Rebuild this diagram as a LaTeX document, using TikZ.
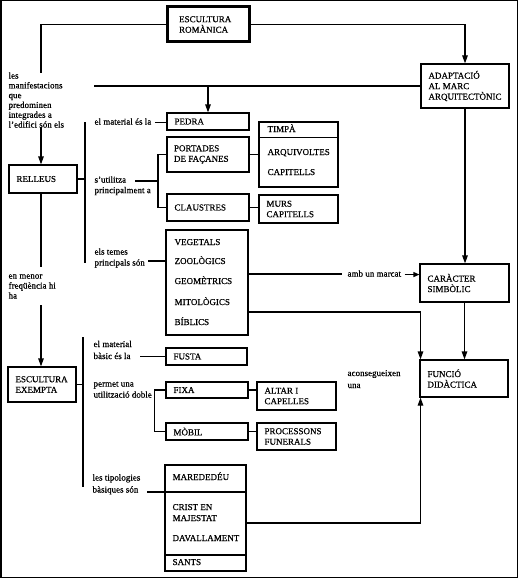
\documentclass[tikz,border=0pt]{standalone}
\usepackage{fontspec}
\setmainfont[FakeBold=0.6]{Liberation Serif}
\usetikzlibrary{arrows.meta}
\tikzset{
  box/.style={draw, line width=1.2pt, inner sep=0pt},
  txt/.style={font=\fontsize{9}{10.5}\selectfont, align=left, inner sep=0pt},
  lbl/.style={txt, anchor=north west},
  arr/.style={-{Triangle[length=8pt,width=5.5pt]}},
}
\def\bxoff{7.5pt}
\newcommand\bx[7][]{%
  \node[box,#1,minimum width={(#4)-(#2)},minimum height={(#5)-(#3)}] (#7) at ({((#2)+(#4))/2},{((#3)+(#5))/2}) {};
  \node[txt,anchor=west] (#7t) at ([xshift=\bxoff]#7.west) {#6};}
\begin{document}
\begin{tikzpicture}[x=1pt,y=-1pt,line width=1.2pt]
\useasboundingbox (0,0) rectangle (518,578);
\draw[line width=1.5pt] (0.75,0.75) rectangle (517.25,577.25);

% boxes
{\def\bxoff{13pt}\bx[line width=3pt]{167}{7}{249}{42}{ESCULTURA\\ROMÀNICA}{rom}}
\bx{421}{64}{509}{108}{ADAPTACIÓ\\AL MARC\\ARQUITECTÒNIC}{adapt}
\bx{9}{165}{77}{193}{RELLEUS}{relleus}
\bx{8}{367}{76}{402}{ESCULTURA\\EXEMPTA}{exempta}
\bx{167}{113}{249}{130}{PEDRA}{pedra}
\bx[line width=2.2pt]{167}{137}{249}{172}{PORTADES\\DE FAÇANES}{portades}
\bx{167}{194}{249}{221}{CLAUSTRES}{claustres}
\bx{259}{195}{338}{223}{MURS\\CAPITELLS}{murs}
\bx{420}{264}{509}{302}{CARÀCTER\\SIMBÒLIC}{carac}
\bx{420}{360}{508}{397}{FUNCIÓ\\DIDÀCTICA}{funcio}
\bx{166}{348}{247}{365}{FUSTA}{fusta}
\bx{166}{382}{248}{398}{FIXA}{fixa}
\bx{257}{382}{336}{410}{ALTAR I\\CAPELLES}{altar}
\bx{166}{423}{248}{440}{MÒBIL}{mobil}
\bx{257}{423}{336}{450}{PROCESSONS\\FUNERALS}{proc}

% group: timpa
\node[box,minimum width=79,minimum height=65] (timpa) at (298.5,154.5) {};
\draw ([yshift=-16pt]timpa.north west) -- ([yshift=-16pt]timpa.north east);
\node[txt,anchor=base west] (timpa1) at (267,132) {TIMPÀ};
\node[txt,anchor=base west] (timpa2) at (267,155) {ARQUIVOLTES};
\node[txt,anchor=base west] (timpa3) at (267,175) {CAPITELLS};

% group: temes
\node[box,minimum width=82,minimum height=105] (temes) at (207,282.5) {};
\node[txt,anchor=base west] (tem1) at (174,245) {VEGETALS};
\node[txt,anchor=base west] (tem2) at (174,264) {ZOOLÒGICS};
\node[txt,anchor=base west] (tem3) at (174,284) {GEOMÈTRICS};
\node[txt,anchor=base west] (tem4) at (174,305) {MITOLÒGICS};
\node[txt,anchor=base west] (tem5) at (174,325) {BÍBLICS};

% group: tipologies
\node[box,line width=1.8pt,minimum width=81,minimum height=106] (tipus) at (205.5,518) {};
\draw[line width=1.8pt] ([yshift=-28pt]tipus.north west) -- ([yshift=-28pt]tipus.north east);
\draw[line width=1.8pt] ([yshift=17pt]tipus.south west) -- ([yshift=17pt]tipus.south east);
\node[txt,anchor=base west] (tip1) at (172,480) {MAREDEDÉU};
\node[txt,anchor=base west] (tip2) at (172,510) {CRIST EN};
\node[txt,anchor=base west] (tip3) at (172,521) {MAJESTAT};
\node[txt,anchor=base west] (tip4) at (172,541) {DAVALLAMENT};
\node[txt,anchor=base west] (tip5) at (172,565) {SANTS};

% labels
\node[lbl,font=\fontsize{9}{9.8}\selectfont] (lman) at (8,71.1) {\strut les\\manifestacions\\que\\predominen\\integrades a\\l'edifici són els};
\node[lbl,font=\fontsize{9}{10}\selectfont] (lmen) at (8,271) {\strut en menor\\freqüència hi\\ha};
\node[lbl] (lmat) at (94,116.7) {\strut el material és la};
\node[lbl] (luti) at (94,174.7) {\strut s'utilitza\\principalment a};
\node[lbl,font=\fontsize{9}{11}\selectfont] (ltem) at (94,246.3) {\strut els temes\\principals són};
\node[lbl,font=\fontsize{9}{12}\selectfont] (lmat2) at (93,338) {\strut el material\\bàsic és la};
\node[lbl,font=\fontsize{9}{11}\selectfont] (lper) at (93,378.3) {\strut permet una\\utilització doble};
\node[lbl,font=\fontsize{9}{12}\selectfont] (ltip) at (92,471.5) {\strut les tipologies\\bàsiques són};
\node[lbl,font=\fontsize{9}{12}\selectfont] (lacon) at (347,367) {\strut aconsegueixen\\una};
\node[lbl] (lmarc) at (347,268.7) {\strut amb un marcat};

% coordinates
\coordinate (c1) at (41,73);
\coordinate (c2) at (41,127);
\coordinate (c3) at (41,267);
\coordinate (c4) at (41,305);
\coordinate (h1) at (94,85);
\coordinate (br1t) at (85,122);
\coordinate (br1b) at (85,263);
\coordinate (br2t) at (83,337);
\coordinate (br2b) at (83,487);
\coordinate (u1) at (135,181);
\coordinate (u2) at (159,181);
\coordinate (t1) at (148,261);
\coordinate (t2) at (140,356.5);
\coordinate (t3) at (147,492);
\coordinate (m1) at (342,274);
\coordinate (m2) at (420.5,312);
\coordinate (m3) at (420.5,523);

% connectors
\draw (rom.west) -| (c1);
\draw[arr] (rom.east) -| (adapt.north);
\draw[arr] (c2) -- (c2 |- relleus.north);
\draw (relleus.south -| c2) -- (c3);
\draw[arr] (c4) -- (c4 |- exempta.north);
\draw (adapt.west) -- (adapt.west -| h1);
\draw[arr] (pedra.north |- adapt.west) -- (pedra.north);
\draw (br1t) -- (br1b);
\draw (relleus.east) -- (relleus.east -| br1t);
\draw (br2t) -- (br2b);
\draw (exempta.east) -- (exempta.east -| br2t);
\draw ([xshift=3pt]lmat.east) -- (lmat.east -| pedra.west);
\draw (u1) -- (u2);
\draw (portades.west) -- ++(-8,0) |- (claustres.west);
\draw (portades.east) -- (portades.east -| timpa.west);
\draw (claustres.east) -- (claustres.east -| murs.west);
\draw (t1) -- (t1 -| temes.west);
\draw (m1 -| temes.east) -- (m1);
\draw[-{Triangle[length=6pt,width=5pt]}] ([xshift=3pt]lmarc.east) -- (lmarc.east -| carac.west);
\draw[arr] (m2 -| temes.east) -- (m2) -- (m2 |- funcio.north);
\draw[arr] (adapt.south) -- (adapt.south |- carac.north);
\draw[arr] (carac.south) -- (carac.south |- funcio.north);
\draw (t2) -- (t2 -| fusta.west);
\draw (fixa.west) -- ++(-11,0) |- (mobil.west);
\draw (fixa.east) -- (fixa.east -| altar.west);
\draw (mobil.east) -- (mobil.east -| proc.west);
\draw (t3) -- (t3 -| tipus.west);
\draw[arr] (m3 -| tipus.east) -- (m3) -- (m3 |- funcio.south);
\end{tikzpicture}
\end{document}
